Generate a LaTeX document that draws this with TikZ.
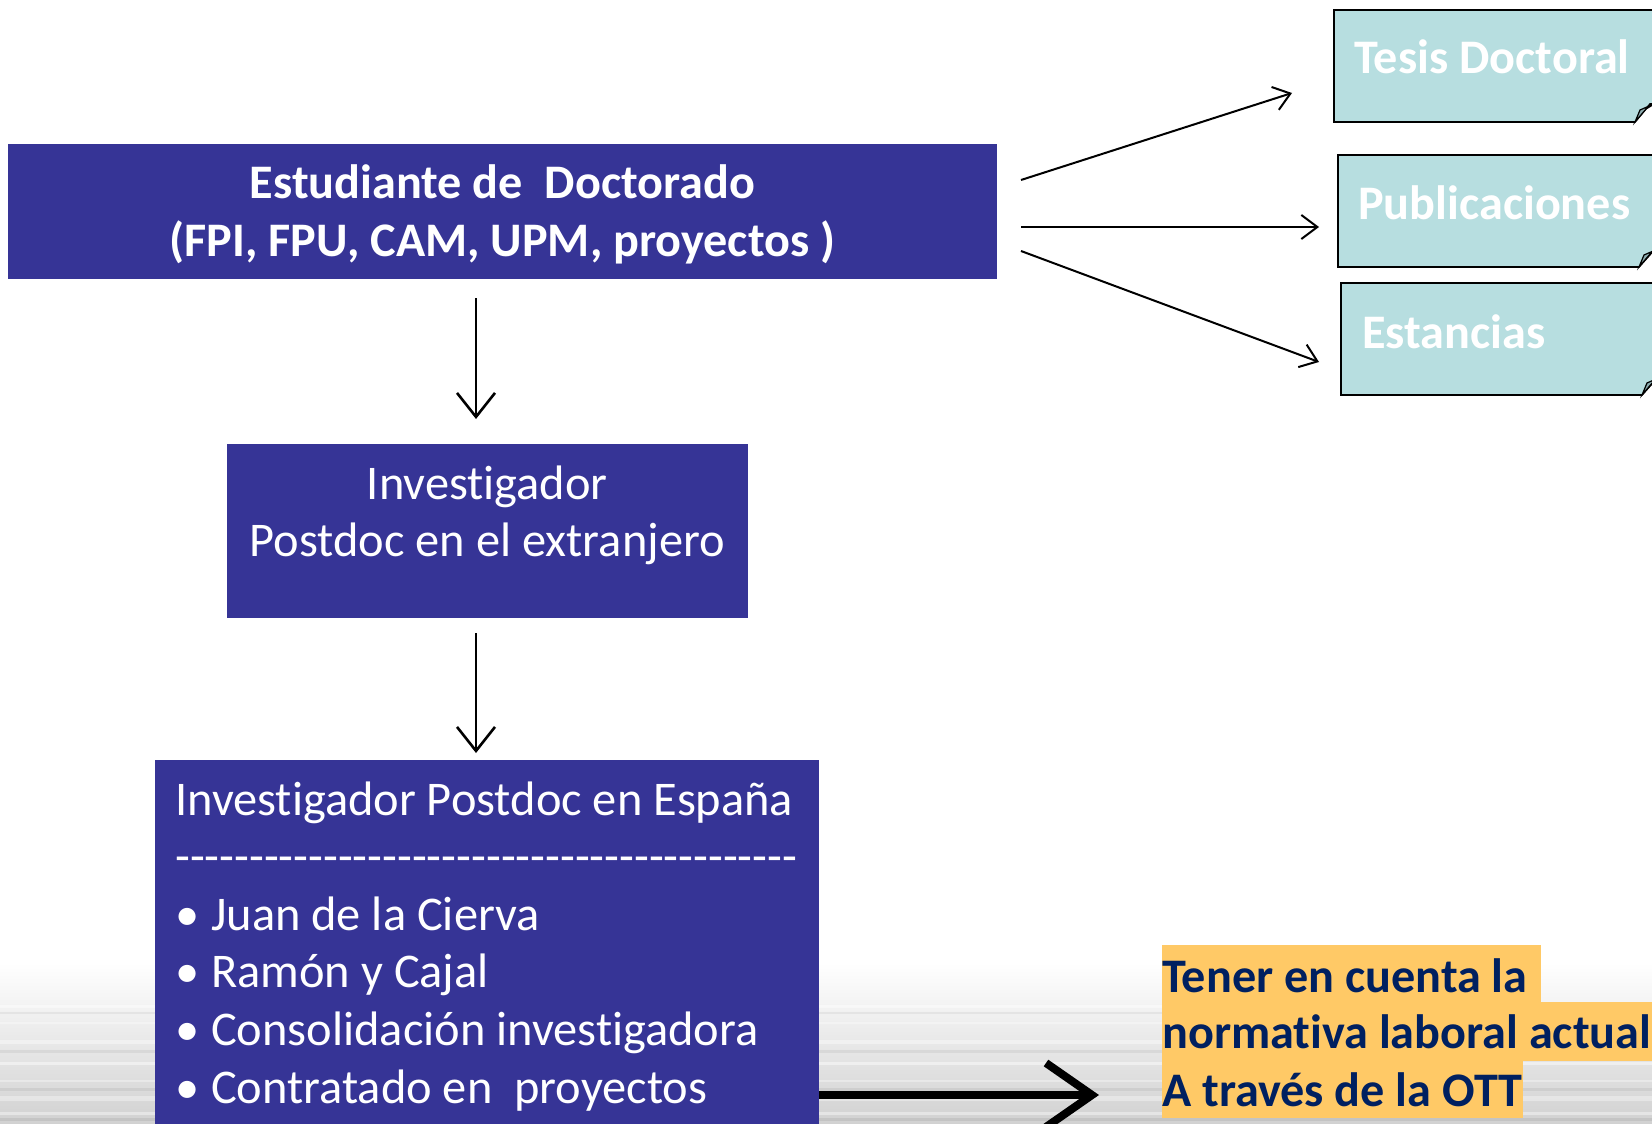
\documentclass[tikz,border=0pt]{standalone}
\usepackage{fontspec}
\setmainfont{Carlito}[Ligatures={NoCommon,NoContextual},Contextuals={NoAlternate}]
\usetikzlibrary{arrows.meta}
\definecolor{boxblue}{RGB}{54,52,150}
\definecolor{notefill}{RGB}{183,222,224}
\definecolor{notefold}{RGB}{140,172,175}
\definecolor{hlorange}{RGB}{255,201,102}
\definecolor{navytext}{RGB}{0,32,96}
\newcommand\bigfs{\fontsize{48.2}{57.8}\selectfont}
\newcommand\regfs{\fontsize{48.4}{57.8}\selectfont}
\newcommand\hyph{\hbox{-}}
\begin{document}
\begin{tikzpicture}[x=1pt,y=-1pt,
  bluebox/.style={draw=none,fill=boxblue,inner sep=0pt},
  wtxt/.style={text=white,inner sep=0pt,font=\regfs},
  wbold/.style={text=white,inner sep=0pt,font=\bigfs\bfseries},
  notebody/.style={draw=black,line width=1.6pt,fill=notefill,line join=miter},
  notecurl/.style={draw=black,line width=1.2pt,fill=notefold},
  hltxt/.style={fill=hlorange,text=navytext,font=\bigfs\bfseries,inner xsep=0pt,inner ysep=0pt,anchor=base west},
  thinarr/.style={draw=black,line width=2pt,-{Straight Barb[length=16pt,width=24pt]}},
  downarr/.style={draw=black,line width=2.6pt,-{Straight Barb[length=24pt,width=38pt]}},
  thickarr/.style={draw=black,line width=8pt,-{Straight Barb[length=46pt,width=64pt]}}
]
\useasboundingbox (0,0) rectangle (1652,1124);
\clip (0,0) rectangle (1652,1124);
\fill[white] (0,0) rectangle (1652,1124);
% background gradient at bottom
\shade[top color=white,bottom color=black!18] (0,963) rectangle (1652,1124);
\foreach \yy/\hh/\oo in {1005/3/0.45,1022/2/0.35,1040/4/0.4,1062/3/0.45,1080/2/0.35,1096/5/0.35,1112/3/0.4}
  \fill[white,opacity=\oo] (0,\yy) rectangle (1652,\yy+\hh);
\foreach \yy/\hh/\oo in {1012/2/0.05,1050/3/0.06,1088/3/0.06,1118/3/0.07}
  \fill[black,opacity=\oo] (0,\yy) rectangle (1652,\yy+\hh);

% box 1
\node[bluebox,minimum width=988.3pt,minimum height=135pt] (b1) at (502.5,211.5) {};
\node[wbold,anchor=base] (b1a) at (502.5,198) {Estudiante de~ Doctorado};
\node[wbold,anchor=base] (b1b) at (502.5,256) {(FPI, FPU, CAM, UPM, proyectos )};

% box 2
\node[bluebox,minimum width=521.5pt,minimum height=174pt] (b2) at (487.3,530.5) {};
\node[wtxt,anchor=base] (b2a) at (487.3,499) {Investigador};
\node[wtxt,anchor=base] (b2b) at (487.3,556) {Postdoc en el extranjero};

% box 3
\node[bluebox,anchor=north west,minimum width=663.6pt,minimum height=420pt] (b3) at (155,759.6) {};
\node[wtxt,anchor=base west] (b3a) at (175,815) {Investigador Postdoc en España};
\node[wtxt,anchor=base west] (b3b) at (175,872) {\foreach \i in {1,...,42}{\hyph}};
\node[wtxt,anchor=base west] (b3c) at (175,930) {\makebox[36pt][l]{\textbullet}Juan de la Cierva};
\node[wtxt,anchor=base west] (b3d) at (175,987) {\makebox[36pt][l]{\textbullet}Ramón y Cajal};
\node[wtxt,anchor=base west] (b3e) at (175,1045) {\makebox[36pt][l]{\textbullet}Consolidación investigadora};
\node[wtxt,anchor=base west] (b3f) at (175,1103) {\makebox[36pt][l]{\textbullet}Contratado en~ proyectos};

% notes on the right
\draw[notebody] (1334,10) -- (1700,10) -- (1700,104) -- (1650,104) -- (1635,122) -- (1334,122) -- cycle;
\draw[notecurl] (1635,122) -- (1640,110) -- (1656,103) -- (1646,109) -- cycle;
\node[wbold,anchor=base west] (tesis) at (1354,74) {Tesis Doctoral};

\draw[notebody] (1338,155) -- (1700,155) -- (1700,249) -- (1655,249) -- (1639,267) -- (1338,267) -- cycle;
\draw[notecurl] (1639,267) -- (1644,255) -- (1660,248) -- (1650,254) -- cycle;
\node[wbold,anchor=base west] (publ) at (1358,219) {Publicaciones};

\draw[notebody] (1341,283) -- (1700,283) -- (1700,377) -- (1658,377) -- (1642,395) -- (1341,395) -- cycle;
\draw[notecurl] (1642,395) -- (1647,383) -- (1663,376) -- (1653,382) -- cycle;
\node[wbold,anchor=base west] (estan) at (1362,348) {Estancias};

% highlighted note
\node[hltxt,text height=47pt,text depth=10pt] (o1) at (1162,992) {\makebox[379pt][l]{Tener en cuenta la}};
\node[hltxt,text height=46pt,text depth=13pt] (o2) at (1162,1048) {\makebox[500pt][l]{normativa laboral actual}};
\node[hltxt,text height=45pt,text depth=12pt] (o3) at (1162,1106) {\makebox[361pt][l]{A través de la OTT}};

% connector coordinates
\coordinate (s1) at (1021,180);
\coordinate (e1) at (1292,93);
\coordinate (s2) at (1021,227);
\coordinate (e2) at (1319,227);
\coordinate (s3) at (1021,251);
\coordinate (e3) at (1319,362);
\coordinate (d1s) at (476,298);
\coordinate (d1e) at (476,419);
\coordinate (d2s) at (476,633);
\coordinate (d2e) at (476,753);
\coordinate (te) at (1099,1095);

\draw[thinarr] (s1) -- (e1);
\draw[thinarr] (s2) -- (e2);
\draw[thinarr] (s3) -- (e3);
\draw[downarr] (d1s) -- (d1e);
\draw[downarr] (d2s) -- (d2e);
\draw[thickarr] (b3.east |- te) -- (te);
\end{tikzpicture}
\end{document}
